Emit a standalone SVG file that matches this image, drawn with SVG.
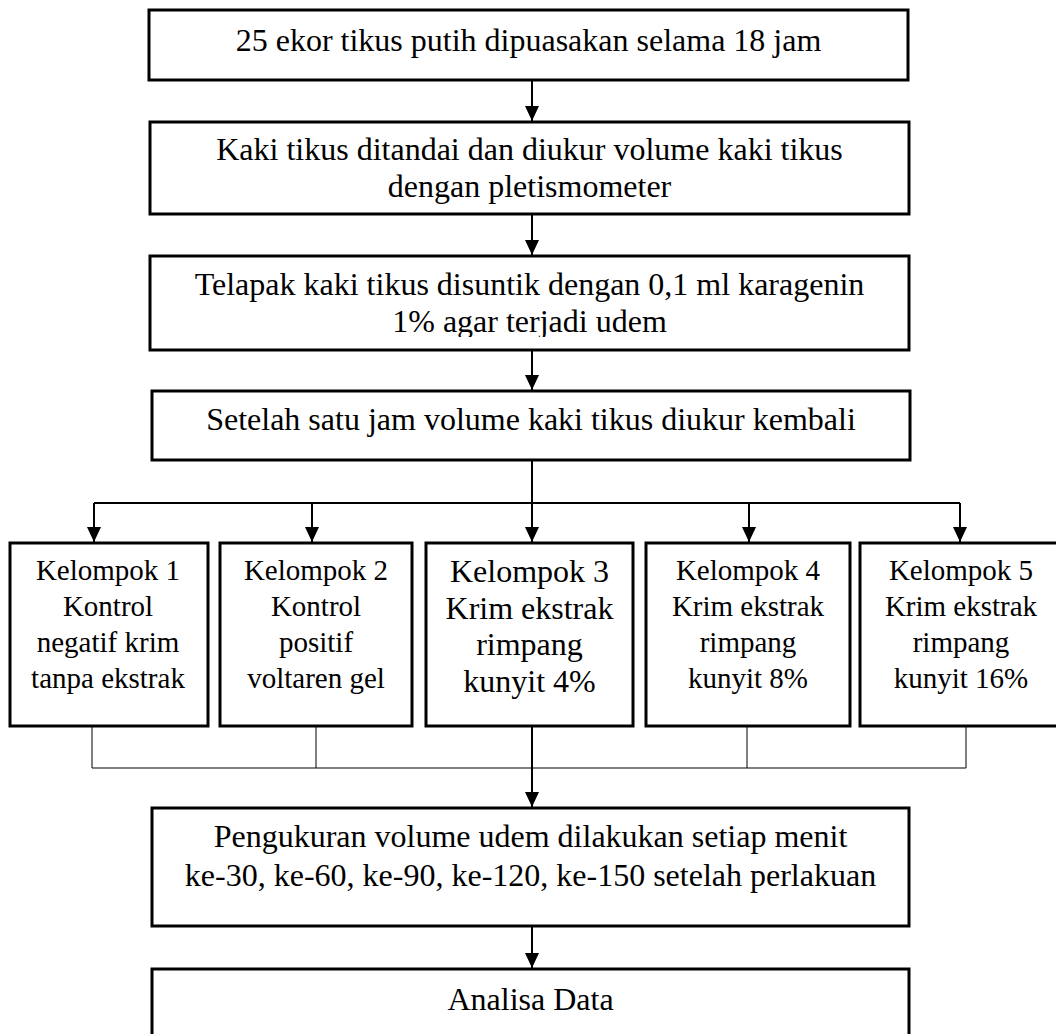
<svg xmlns="http://www.w3.org/2000/svg" width="1056" height="1034" viewBox="0 0 1056 1034">
<style>
.box{fill:#fff;stroke:#000;stroke-width:3}
.t{font-family:"Liberation Serif","Times New Roman",serif;font-size:32px;fill:#000;text-anchor:middle}
.s{font-size:29px}
.arr{stroke:#000;stroke-width:2;fill:none;marker-end:url(#ah)}
.ln{stroke:#000;stroke-width:2;fill:none}
.thin{stroke:#000;stroke-width:1;fill:none}
</style>
<defs>
<marker id="ah" markerUnits="userSpaceOnUse" markerWidth="16" markerHeight="16" refX="15" refY="7" orient="auto">
<path d="M0,0 L15,7 L0,14 Z" fill="#000"/>
</marker>
<clipPath id="clip3"><rect x="150" y="256" width="759" height="81"/></clipPath>
</defs>
<rect width="1056" height="1034" fill="#fff"/>
<g id="connectors">
<line class="arr" x1="532" y1="80" x2="532" y2="121"/>
<line class="arr" x1="532" y1="214" x2="532" y2="255"/>
<line class="arr" x1="532" y1="350" x2="532" y2="390"/>
<line class="ln" x1="532" y1="460" x2="532" y2="503"/>
<line class="ln" x1="94" y1="503" x2="960" y2="503"/>
<line class="arr" x1="94" y1="503" x2="94" y2="542"/>
<line class="arr" x1="312" y1="503" x2="312" y2="542"/>
<line class="arr" x1="532" y1="503" x2="532" y2="542"/>
<line class="arr" x1="749" y1="503" x2="749" y2="542"/>
<line class="arr" x1="960" y1="503" x2="960" y2="542"/>
<polyline class="thin" points="92,727 92,768 966,768 966,727"/>
<line class="thin" x1="316" y1="727" x2="316" y2="768"/>
<line class="thin" x1="747" y1="727" x2="747" y2="768"/>
<line class="arr" x1="532" y1="727" x2="532" y2="807"/>
<line class="arr" x1="532" y1="926" x2="532" y2="968"/>
</g>
<g id="n1"><rect class="box" x="149" y="10" width="759" height="70"/><text class="t" x="528.5" y="51">25 ekor tikus putih dipuasakan selama 18 jam</text></g>
<g id="n2"><rect class="box" x="150" y="122" width="759" height="92"/><text class="t" x="529.5" y="160">Kaki tikus ditandai dan diukur volume kaki tikus</text><text class="t" x="529.5" y="197">dengan pletismometer</text></g>
<g id="n3"><rect class="box" x="150" y="256" width="759" height="94"/><text class="t" x="529.5" y="295">Telapak kaki tikus disuntik dengan 0,1 ml karagenin</text><text class="t" x="529.5" y="332" clip-path="url(#clip3)">1% agar terjadi udem</text></g>
<g id="n4"><rect class="box" x="152" y="391" width="758" height="69"/><text class="t" x="531" y="430">Setelah satu jam volume kaki tikus diukur kembali</text></g>
<g id="k1"><rect class="box" x="10" y="543" width="198" height="183"/><text class="t s" x="108" y="580">Kelompok 1</text><text class="t s" x="108" y="616">Kontrol</text><text class="t s" x="108" y="652">negatif krim</text><text class="t s" x="108" y="688">tanpa ekstrak</text></g>
<g id="k2"><rect class="box" x="220" y="543" width="192" height="183"/><text class="t s" x="316" y="580">Kelompok 2</text><text class="t s" x="316" y="616">Kontrol</text><text class="t s" x="316" y="652">positif</text><text class="t s" x="316" y="688">voltaren gel</text></g>
<g id="k3"><rect class="box" x="426" y="543" width="207" height="183"/><text class="t" x="529.5" y="582">Kelompok 3</text><text class="t" x="529.5" y="619">Krim ekstrak</text><text class="t" x="529.5" y="655">rimpang</text><text class="t" x="529.5" y="692">kunyit 4%</text></g>
<g id="k4"><rect class="box" x="646" y="543" width="204" height="183"/><text class="t s" x="748" y="580">Kelompok 4</text><text class="t s" x="748" y="616">Krim ekstrak</text><text class="t s" x="748" y="652">rimpang</text><text class="t s" x="748" y="688">kunyit 8%</text></g>
<g id="k5"><rect class="box" x="860" y="543" width="202" height="183"/><text class="t s" x="961" y="580">Kelompok 5</text><text class="t s" x="961" y="616">Krim ekstrak</text><text class="t s" x="961" y="652">rimpang</text><text class="t s" x="961" y="688">kunyit 16%</text></g>
<g id="n5"><rect class="box" x="152" y="808" width="757" height="118"/><text class="t" x="530.5" y="847">Pengukuran volume udem dilakukan setiap menit</text><text class="t" x="530.5" y="886">ke-30, ke-60, ke-90, ke-120, ke-150 setelah perlakuan</text></g>
<g id="n6"><rect class="box" x="152" y="969" width="757" height="80"/><text class="t" x="530.5" y="1010">Analisa Data</text></g>
</svg>
